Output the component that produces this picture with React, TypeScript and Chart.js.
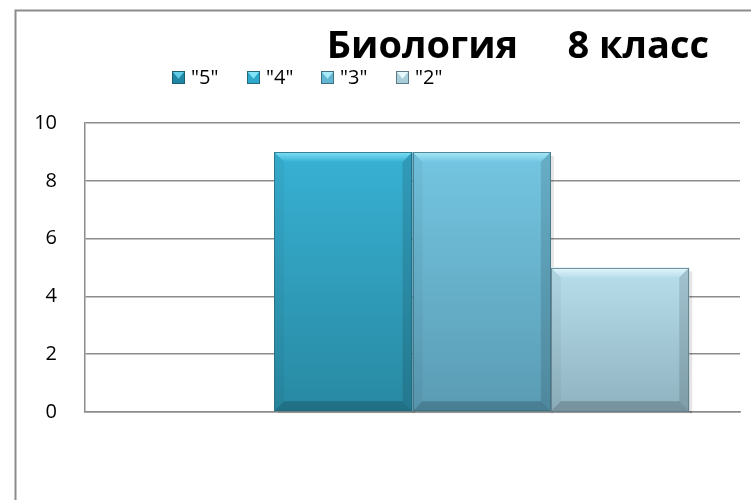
import React, { useEffect, useRef } from "react";
import { Chart, registerables } from "chart.js";

Chart.register(...registerables);

const categories = [""];
const seriesLabels = ['"5"', '"4"', '"3"', '"2"'];
const grade5 = [0];
const grade4 = [9];
const grade3 = [9];
const grade2 = [5];
const yMin = 0;
const yMax = 10;
const yStep = 2;
const titleText = "Биология     8 класс";

const seriesValues = [grade5, grade4, grade3, grade2];

const palette = [
  { top: "#2a9bbb", bottom: "#1a7891", hi: "#5fcbe6", legend: "#1f86a3", line: "#1c5f70" },
  { top: "#38b1d4", bottom: "#2889a2", hi: "#7fe2f6", legend: "#2ea8cb", line: "#27687a" },
  { top: "#74c6e2", bottom: "#5a9bb3", hi: "#a9eaf8", legend: "#63b6d2", line: "#3f6f80" },
  { top: "#b8deec", bottom: "#8fb2bf", hi: "#e4f8fd", legend: "#a9cdda", line: "#5e7a84" },
];

const FONT = "'Open Sans', 'Noto Sans', sans-serif";

const framePlugin = {
  id: "frame",
  beforeDraw(chart: any) {
    const c = chart.ctx;
    c.save();
    c.fillStyle = "#ffffff";
    c.fillRect(0, 0, chart.width, chart.height);
    c.strokeStyle = "#8c8c8c";
    c.lineWidth = 2;
    c.strokeRect(15.5, 10.5, chart.width + 40, chart.height + 40);
    c.restore();
  },
};

const bevelPlugin = {
  id: "bevel",
  beforeDatasetsDraw(chart: any) {
    const c = chart.ctx;
    c.save();
    chart.data.datasets.forEach((_ds: any, i: number) => {
      const meta = chart.getDatasetMeta(i);
      meta.data.forEach((el: any) => {
        const p = el.getProps(["x", "y", "base", "width"], true);
        const l = p.x - p.width / 2;
        const r = p.x + p.width / 2;
        const t = Math.min(p.y, p.base);
        const b = Math.max(p.y, p.base);
        if (b - t < 1) return;
        c.fillStyle = "rgba(0,0,0,0.10)";
        c.fillRect(r, t + 4, 3, b - t - 2);
        c.fillRect(l + 4, b, r - l - 1, 2);
      });
    });
    c.restore();
  },
  afterDatasetsDraw(chart: any) {
    const c = chart.ctx;
    c.save();
    chart.data.datasets.forEach((_ds: any, i: number) => {
      const meta = chart.getDatasetMeta(i);
      const col = palette[i];
      meta.data.forEach((el: any) => {
        const p = el.getProps(["x", "y", "base", "width"], true);
        const l = p.x - p.width / 2;
        const r = p.x + p.width / 2;
        const t = Math.min(p.y, p.base);
        const b = Math.max(p.y, p.base);
        if (b - t < 1) return;
        const s = 10;
        const gt = c.createLinearGradient(0, t, 0, t + s);
        gt.addColorStop(0, col.hi);
        gt.addColorStop(1, col.top);
        c.fillStyle = gt;
        c.beginPath();
        c.moveTo(l, t);
        c.lineTo(r, t);
        c.lineTo(r - s, t + s);
        c.lineTo(l + s, t + s);
        c.closePath();
        c.fill();
        c.fillStyle = "rgba(0,0,0,0.04)";
        c.beginPath();
        c.moveTo(l, t);
        c.lineTo(l + s, t + s);
        c.lineTo(l + s, b - s);
        c.lineTo(l, b);
        c.closePath();
        c.fill();
        c.fillStyle = "rgba(0,0,0,0.12)";
        c.beginPath();
        c.moveTo(r, t);
        c.lineTo(r - s, t + s);
        c.lineTo(r - s, b - s);
        c.lineTo(r, b);
        c.closePath();
        c.fill();
        c.fillStyle = "rgba(0,0,0,0.18)";
        c.beginPath();
        c.moveTo(l, b);
        c.lineTo(l + s, b - s);
        c.lineTo(r - s, b - s);
        c.lineTo(r, b);
        c.closePath();
        c.fill();
        c.strokeStyle = col.line;
        c.globalAlpha = 0.8;
        c.lineWidth = 1;
        c.strokeRect(Math.round(l) + 0.5, Math.round(t) + 0.5, Math.round(r - l) - 1, Math.round(b - t) - 1);
        c.globalAlpha = 1;
      });
    });
    c.restore();
  },
};

const headerPlugin = {
  id: "header",
  afterDraw(chart: any) {
    const c = chart.ctx;
    c.save();
    c.fillStyle = "#000000";
    c.font = `bold 38px ${FONT}`;
    c.textAlign = "center";
    c.textBaseline = "alphabetic";
    c.fillText(titleText, 518, 58);
    c.font = `20px ${FONT}`;
    c.textAlign = "left";
    c.textBaseline = "middle";
    const startX = 172;
    const step = 74.7;
    chart.data.datasets.forEach((ds: any, i: number) => {
      const x = Math.round(startX + i * step);
      const y = 71;
      const sz = 13;
      const col = palette[i];
      c.fillStyle = col.legend;
      c.fillRect(x, y, sz, sz);
      c.fillStyle = col.hi;
      c.beginPath();
      c.moveTo(x, y);
      c.lineTo(x + sz, y);
      c.lineTo(x + sz / 2, y + sz * 0.6);
      c.closePath();
      c.fill();
      c.strokeStyle = col.line;
      c.lineWidth = 1;
      c.strokeRect(x + 0.5, y + 0.5, sz - 1, sz - 1);
      c.fillStyle = "#000000";
      c.fillText(ds.label, x + 19, y + sz / 2 + 1);
    });
    c.restore();
  },
};

export default function App() {
  const ref = useRef<HTMLCanvasElement | null>(null);
  useEffect(() => {
    if (!ref.current) return;
    const gridColor = "#8c8c8c";
    const chart = new Chart(ref.current, {
      type: "bar",
      data: {
        labels: categories,
        datasets: seriesLabels.map((label, i) => ({
          label,
          data: seriesValues[i],
          borderWidth: 0,
          backgroundColor: (ctx: any) => {
            const col = palette[i];
            const ch = ctx.chart;
            if (!ch.chartArea || ctx.type !== "data") return col.top;
            const ys = ch.scales.y;
            const v = ctx.raw as number;
            const top = ys.getPixelForValue(v);
            const bottom = ys.getPixelForValue(0);
            if (!(bottom > top + 1)) return col.top;
            const g = ch.ctx.createLinearGradient(0, top, 0, bottom);
            g.addColorStop(0, col.top);
            g.addColorStop(1, col.bottom);
            return g;
          },
        })),
      },
      options: {
        responsive: false,
        maintainAspectRatio: false,
        animation: false,
        layout: { padding: { top: 123, right: 11, bottom: 88, left: 0 } },
        plugins: {
          legend: { display: false },
          title: { display: false },
          tooltip: { enabled: false },
        },
        datasets: { bar: { categoryPercentage: 0.845, barPercentage: 1 } },
        scales: {
          x: {
            grid: { display: false },
            ticks: { display: false },
            border: { display: true, color: gridColor, width: 1.5 },
            afterFit(scale: any) {
              scale.height = 0;
              scale.paddingLeft = 0;
              scale.paddingRight = 0;
            },
          },
          y: {
            min: yMin,
            max: yMax,
            ticks: {
              stepSize: yStep,
              padding: 28,
              color: "#000000",
              font: { family: FONT, size: 20 },
            },
            grid: { color: gridColor, lineWidth: 1.5, drawTicks: false },
            border: { display: true, color: gridColor, width: 1.5 },
            afterFit(scale: any) {
              scale.width = 85;
              scale.paddingTop = 0;
              scale.paddingBottom = 0;
            },
          },
        },
      },
      plugins: [framePlugin, bevelPlugin, headerPlugin],
    } as any);
    return () => chart.destroy();
  }, []);
  return (
    <div style={{ position: "fixed", left: 0, top: 0, width: 751, height: 500 }}>
      <canvas ref={ref} width={751} height={500} style={{ display: "block", width: 751, height: 500 }} />
    </div>
  );
}
